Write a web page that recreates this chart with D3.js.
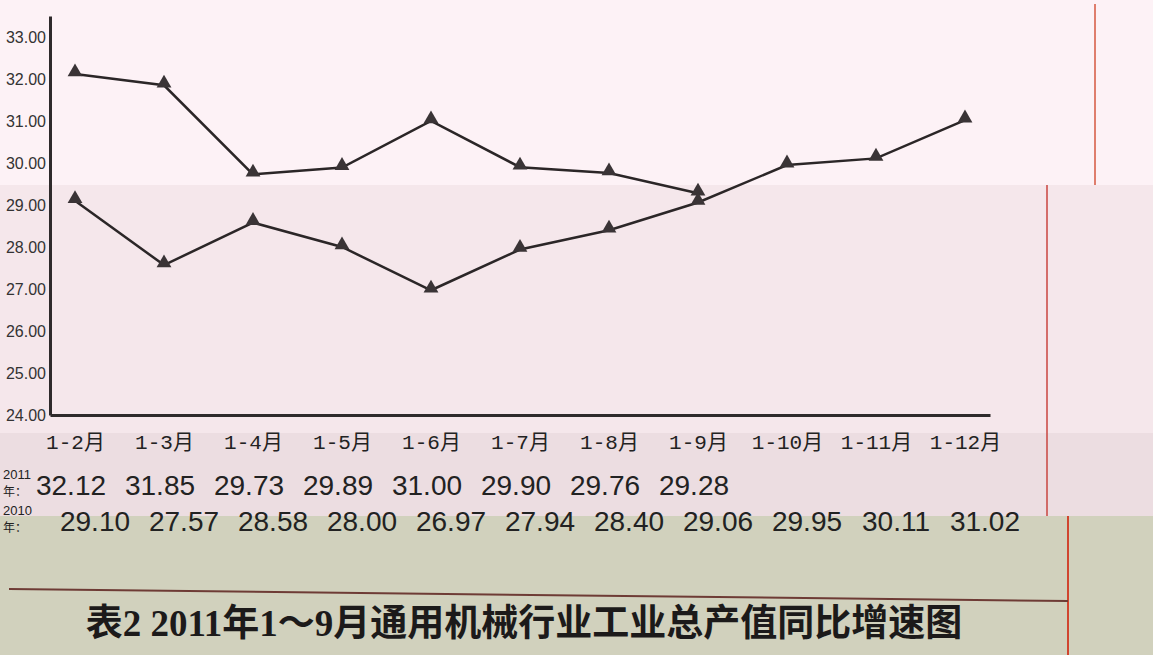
<!DOCTYPE html>
<html>
<head>
<meta charset="utf-8">
<script src="https://cdn.jsdelivr.net/npm/d3@7"></script>
<style>
  body { margin: 0; background: #f5e7eb; }
  svg { display: block; }
</style>
</head>
<body>
<div id="chart"></div>
<script>
const months = ["1-2月", "1-3月", "1-4月", "1-5月", "1-6月", "1-7月", "1-8月", "1-9月", "1-10月", "1-11月", "1-12月"];
const growth2011 = [32.12, 31.85, 29.73, 29.89, 31.00, 29.90, 29.76, 29.28];
const growth2010 = [29.10, 27.57, 28.58, 28.00, 26.97, 27.94, 28.40, 29.06, 29.95, 30.11, 31.02];
const yTicks = [24, 25, 26, 27, 28, 29, 30, 31, 32, 33];
const rowYears = ["2011", "2010"];
const rowSuffix = "年：";
const titleText = "表2 2011年1～9月通用机械行业工业总产值同比增速图";

const width = 1153;
const height = 655;
const axisX = 50;
const axisY = 415;

const svg = d3
  .select("#chart")
  .append("svg")
  .attr("width", width)
  .attr("height", height);

// scanned paper background
const paper = svg.append("g");
paper.append("rect").attr("x", 0).attr("y", 0).attr("width", width).attr("height", 185).attr("fill", "#fdf2f6");
paper.append("rect").attr("x", 0).attr("y", 185).attr("width", width).attr("height", 248).attr("fill", "#f5e7eb");
paper.append("rect").attr("x", 0).attr("y", 433).attr("width", width).attr("height", 83).attr("fill", "#ecdde1");
paper.append("rect").attr("x", 0).attr("y", 516).attr("width", width).attr("height", 139).attr("fill", "#d1d1bd");
paper.append("line").attr("x1", 1095).attr("x2", 1095).attr("y1", 4).attr("y2", 185).attr("stroke", "#d4573f").attr("stroke-width", 1.5);
paper.append("line").attr("x1", 1047).attr("x2", 1047).attr("y1", 185).attr("y2", 516).attr("stroke", "#c8443f").attr("stroke-width", 1.5);
paper.append("line").attr("x1", 1068).attr("x2", 1068).attr("y1", 516).attr("y2", 655).attr("stroke", "#d0452f").attr("stroke-width", 2);
paper.append("line").attr("x1", 9).attr("x2", 1068).attr("y1", 589).attr("y2", 601).attr("stroke", "#6e3b35").attr("stroke-width", 2);

// first point sits at ~75px, last at ~965px like the scan
const xScale = d3.scalePoint().domain(months).range([axisX, 990]).padding(0.281);
const yScale = d3.scaleLinear().domain([24, 33.5]).range([axisY, 16]);

// x axis
const xAxis = svg
  .append("g")
  .attr("transform", `translate(0,${axisY})`)
  .call(d3.axisBottom(xScale).tickSize(0).tickSizeOuter(0));
xAxis.select(".domain").attr("stroke", "#2e2a2b").attr("stroke-width", 3);
xAxis
  .selectAll("text")
  .attr("y", 34)
  .attr("dy", 0)
  .attr("fill", "#222")
  .style("font-size", "21px")
  .style("font-family", "'Liberation Mono', 'Noto Sans CJK SC', monospace");

// y axis
const yAxis = svg
  .append("g")
  .attr("transform", `translate(${axisX},0)`)
  .call(
    d3.axisLeft(yScale).tickValues(yTicks).tickSize(0).tickSizeOuter(0).tickFormat(d3.format(".2f"))
  );
yAxis.select(".domain").attr("stroke", "#2e2a2b").attr("stroke-width", 3);
yAxis
  .selectAll("text")
  .attr("x", -4)
  .attr("fill", "#333")
  .style("font-size", "16px")
  .style("font-family", "'Liberation Sans', Arial, sans-serif");

// lines + triangle markers
const line = d3
  .line()
  .x((d, i) => xScale(months[i]))
  .y((d) => yScale(d));

[growth2011, growth2010].forEach((series) => {
  svg
    .append("path")
    .datum(series)
    .attr("d", line)
    .attr("fill", "none")
    .attr("stroke", "#2b2627")
    .attr("stroke-width", 2.5);

  svg
    .selectAll(null)
    .data(series)
    .enter()
    .append("path")
    .attr("d", d3.symbol().type(d3.symbolTriangle).size(95))
    .attr("transform", (d, i) => `translate(${xScale(months[i])},${yScale(d) - 2})`)
    .attr("fill", "#3a3436");
});

// value rows under the chart
const rows = [
  { values: growth2011, y: 495, shift: -4 },
  { values: growth2010, y: 531, shift: 20 },
];
rows.forEach((row, r) => {
  // year label split over two small lines so it fits the left margin
  svg
    .append("text")
    .attr("x", 3)
    .attr("y", row.y - 16)
    .attr("fill", "#222")
    .style("font-size", "13px")
    .style("font-family", "'Liberation Sans', Arial, sans-serif")
    .text(rowYears[r]);
  svg
    .append("text")
    .attr("x", 3)
    .attr("y", row.y + 1)
    .attr("fill", "#222")
    .style("font-size", "12px")
    .style("font-family", "'Noto Sans CJK SC', sans-serif")
    .text(rowSuffix);

  svg
    .selectAll(null)
    .data(row.values)
    .enter()
    .append("text")
    .attr("x", (d, i) => xScale(months[i]) + row.shift)
    .attr("y", row.y)
    .attr("text-anchor", "middle")
    .attr("fill", "#222")
    .style("font-size", "28px")
    .style("font-family", "'Liberation Sans', Arial, sans-serif")
    .text((d) => d.toFixed(2));
});

// caption
svg
  .append("text")
  .attr("x", 524)
  .attr("y", 636)
  .attr("text-anchor", "middle")
  .attr("fill", "#1c1a1a")
  .style("font-size", "37px")
  .style("font-weight", "bold")
  .style("font-family", "'Liberation Serif', 'Noto Sans CJK SC', serif")
  .text(titleText);
</script>
</body>
</html>
